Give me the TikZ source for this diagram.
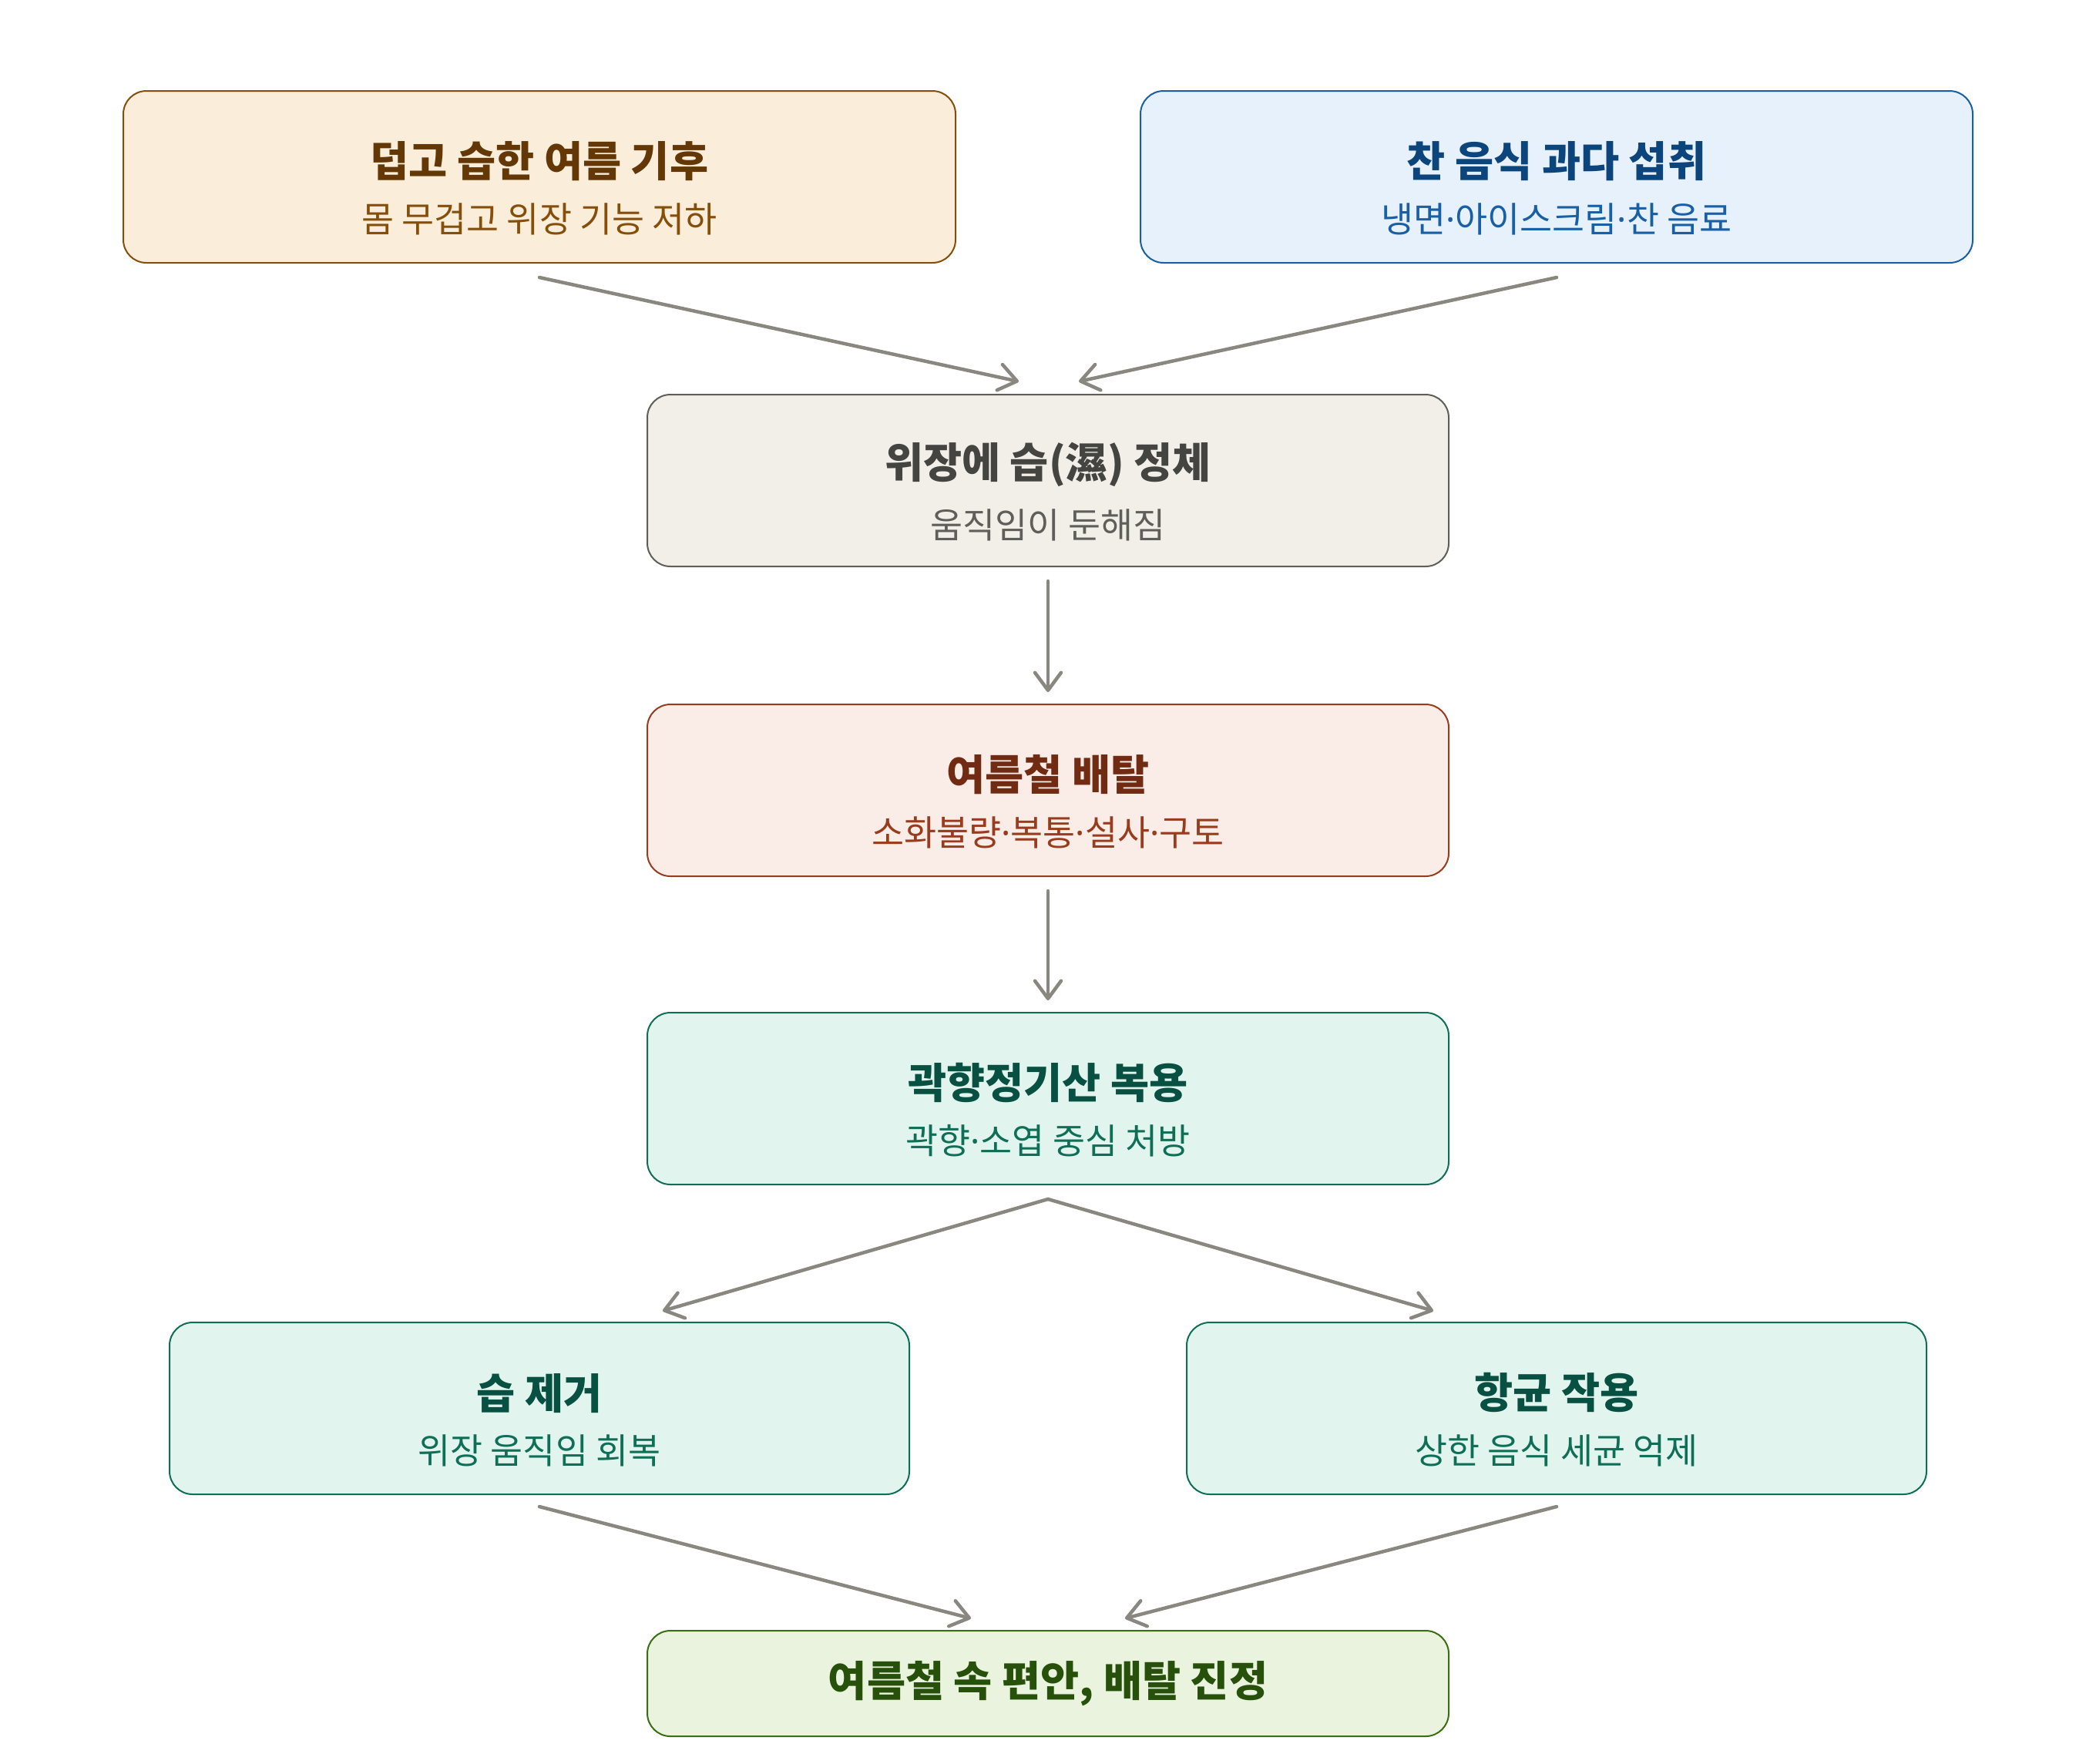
\documentclass[tikz,border=0pt]{standalone}
\usepackage{fontspec}
\setmainfont{Noto Sans CJK KR}
\newfontfamily\dotfont{Noto Sans}
\usetikzlibrary{positioning,arrows.meta}

\definecolor{amberfill}{HTML}{FAEEDA}
\definecolor{amberline}{HTML}{854F0B}
\definecolor{ambertext}{HTML}{633806}
\definecolor{bluefill}{HTML}{E6F1FB}
\definecolor{blueline}{HTML}{185FA5}
\definecolor{bluetext}{HTML}{0C447C}
\definecolor{grayfill}{HTML}{F1EFE8}
\definecolor{grayline}{HTML}{5F5E5A}
\definecolor{graytext}{HTML}{444441}
\definecolor{coralfill}{HTML}{FAECE7}
\definecolor{coralline}{HTML}{993C1D}
\definecolor{coraltext}{HTML}{712B13}
\definecolor{tealfill}{HTML}{E1F5EE}
\definecolor{tealline}{HTML}{0F6E56}
\definecolor{tealtext}{HTML}{085041}
\definecolor{greenfill}{HTML}{EAF3DE}
\definecolor{greenline}{HTML}{3B6D11}
\definecolor{greentext}{HTML}{27500A}
\definecolor{arrowgray}{HTML}{888780}

\newcommand{\md}{{\dotfont ·}}
\newcommand{\twoline}[4]{{\fontsize{15.5pt}{18pt}\selectfont\bfseries\color{#3}\rule{0pt}{0.76cm}#1}\\[0.25cm]{\fontsize{13pt}{16pt}\selectfont\color{#4}#2}}

\tikzset{
  box/.style={draw, rounded corners=0.3cm, line width=0.02cm, minimum width=10.4cm, minimum height=2.23cm, align=center, inner sep=0pt},
  flow/.style={draw=arrowgray, line width=0.045cm, line cap=round, -{Straight Barb[length=0.23cm,width=0.34cm,round]}},
}

\begin{document}
\begin{tikzpicture}
\useasboundingbox (0,0) rectangle (27.2,-22.88);
\node (moist) [box, draw=grayline, fill=grayfill] at (13.6,-6.235) {\twoline{위장에 습(濕) 정체}{움직임이 둔해짐}{graytext}{grayline}};
\node (heat) [box, draw=amberline, fill=amberfill, minimum width=10.8cm, above=1.69cm of moist, xshift=-6.6cm] {\twoline{덥고 습한 여름 기후}{몸 무겁고 위장 기능 저하}{ambertext}{amberline}};
\node (cold) [box, draw=blueline, fill=bluefill, minimum width=10.8cm, above=1.69cm of moist, xshift=6.6cm] {\twoline{찬 음식 과다 섭취}{냉면\md 아이스크림\md 찬 음료}{bluetext}{blueline}};
\node (colic) [box, draw=coralline, fill=coralfill, below=1.77cm of moist] {\twoline{여름철 배탈}{소화불량\md 복통\md 설사\md 구토}{coraltext}{coralline}};
\node (herb) [box, draw=tealline, fill=tealfill, below=1.75cm of colic] {\twoline{곽향정기산 복용}{곽향\md 소엽 중심 처방}{tealtext}{tealline}};
\node (dry) [box, draw=tealline, fill=tealfill, minimum width=9.6cm, below=1.77cm of herb, xshift=-6.6cm] {\twoline{습 제거}{위장 움직임 회복}{tealtext}{tealline}};
\node (germ) [box, draw=tealline, fill=tealfill, minimum width=9.6cm, below=1.77cm of herb, xshift=6.6cm] {\twoline{항균 작용}{상한 음식 세균 억제}{tealtext}{tealline}};
\node (relief) [box, draw=greenline, fill=greenfill, minimum height=1.37cm, below=1.75cm of dry, xshift=6.6cm] {\fontsize{15.5pt}{18pt}\selectfont\bfseries\color{greentext}여름철 속 편안, 배탈 진정};

\draw[flow] ([yshift=-0.18cm]heat.south) -- ([xshift=-0.38cm,yshift=0.16cm]moist.north);
\draw[flow] ([yshift=-0.18cm]cold.south) -- ([xshift=0.4cm,yshift=0.16cm]moist.north);
\draw[flow] ([yshift=-0.18cm]moist.south) -- ([yshift=0.15cm]colic.north);
\draw[flow] ([yshift=-0.18cm]colic.south) -- ([yshift=0.15cm]herb.north);
\draw[flow] ([yshift=-0.18cm]herb.south) -- ([xshift=1.6cm,yshift=0.14cm]dry.north);
\draw[flow] ([yshift=-0.18cm]herb.south) -- ([xshift=-1.6cm,yshift=0.14cm]germ.north);
\draw[flow] ([yshift=-0.15cm]dry.south) -- ([xshift=-1cm,yshift=0.15cm]relief.north);
\draw[flow] ([yshift=-0.15cm]germ.south) -- ([xshift=1cm,yshift=0.15cm]relief.north);
\end{tikzpicture}
\end{document}
